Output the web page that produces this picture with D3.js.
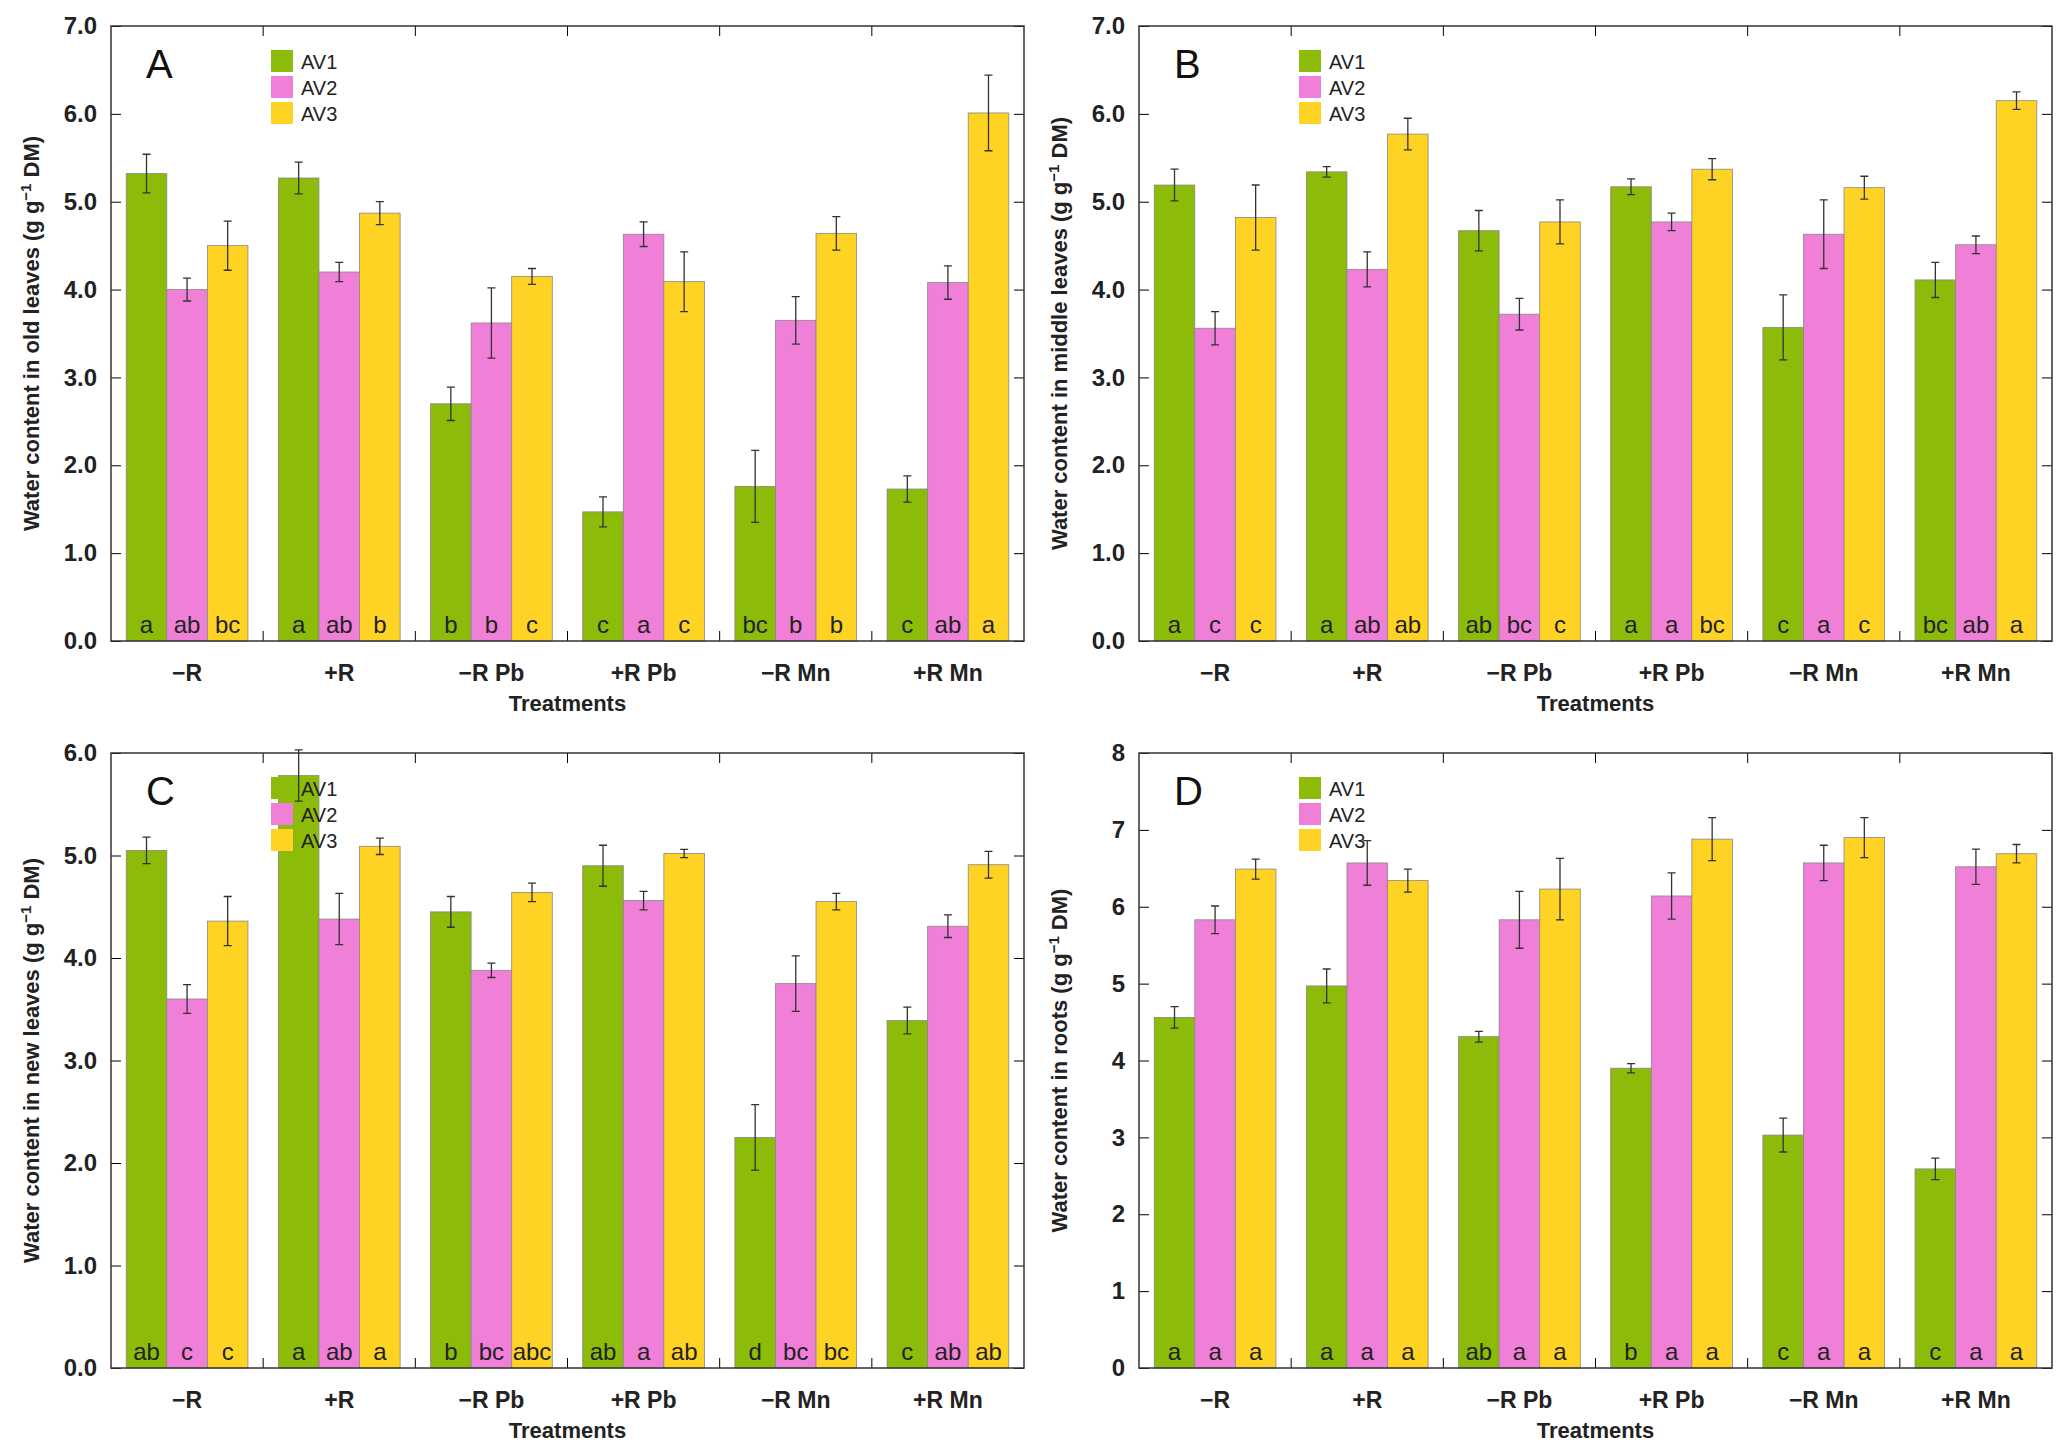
<!DOCTYPE html>
<html><head><meta charset="utf-8">
<script src="https://cdn.jsdelivr.net/npm/d3@7"></script>
<style>body{margin:0;background:#fff}text{font-family:"Liberation Sans",Arial,sans-serif}</style>
</head><body><script>
// treatments and series
var treatments = ["\u2212R", "+R", "\u2212R Pb", "+R Pb", "\u2212R Mn", "+R Mn"];
var series = ["AV1", "AV2", "AV3"];
var colors = ["#8cbb0a", "#f07fd8", "#ffd324"];

// panel A: old leaves
var oldVals = [[5.32,4.0,4.5],[5.27,4.2,4.87],[2.7,3.62,4.15],[1.47,4.63,4.09],[1.76,3.65,4.64],[1.73,4.08,6.01]];
var oldErr = [[0.22,0.13,0.28],[0.18,0.11,0.13],[0.19,0.4,0.09],[0.17,0.14,0.34],[0.41,0.27,0.19],[0.15,0.19,0.43]];
var oldLet = [["a","ab","bc"],["a","ab","b"],["b","b","c"],["c","a","c"],["bc","b","b"],["c","ab","a"]];
// panel B: middle leaves
var midVals = [[5.19,3.56,4.82],[5.34,4.23,5.77],[4.67,3.72,4.77],[5.17,4.77,5.37],[3.57,4.63,5.16],[4.11,4.51,6.15]];
var midErr = [[0.18,0.19,0.37],[0.06,0.2,0.18],[0.23,0.18,0.25],[0.09,0.1,0.12],[0.37,0.39,0.13],[0.2,0.1,0.1]];
var midLet = [["a","c","c"],["a","ab","ab"],["ab","bc","c"],["a","a","bc"],["c","a","c"],["bc","ab","a"]];
// panel C: new leaves
var newVals = [[5.05,3.6,4.36],[5.78,4.38,5.09],[4.45,3.88,4.64],[4.9,4.56,5.02],[2.25,3.75,4.55],[3.39,4.31,4.91]];
var newErr = [[0.13,0.14,0.24],[0.25,0.25,0.08],[0.15,0.07,0.09],[0.2,0.09,0.04],[0.32,0.27,0.08],[0.13,0.11,0.13]];
var newLet = [["ab","c","c"],["a","ab","a"],["b","bc","abc"],["ab","a","ab"],["d","bc","bc"],["c","ab","ab"]];
// panel D: roots
var rootVals = [[4.56,5.83,6.49],[4.97,6.57,6.34],[4.31,5.83,6.23],[3.9,6.14,6.88],[3.03,6.57,6.9],[2.59,6.52,6.69]];
var rootErr = [[0.14,0.18,0.13],[0.22,0.29,0.15],[0.07,0.37,0.4],[0.06,0.3,0.28],[0.22,0.23,0.26],[0.14,0.23,0.12]];
var rootLet = [["a","a","a"],["a","a","a"],["ab","a","a"],["b","a","a"],["c","a","a"],["c","a","a"]];

var panels = [
  {tag:"A", part:"old leaves", vals:oldVals, err:oldErr, lets:oldLet, ymax:7, x:111, y:26},
  {tag:"B", part:"middle leaves", vals:midVals, err:midErr, lets:midLet, ymax:7, x:1139, y:26},
  {tag:"C", part:"new leaves", vals:newVals, err:newErr, lets:newLet, ymax:6, x:111, y:753},
  {tag:"D", part:"roots", vals:rootVals, err:rootErr, lets:rootLet, ymax:8, x:1139, y:753}
];
var W = 913, H = 615;

var svg = d3.select("body").append("svg").attr("width", 2063).attr("height", 1454);

panels.forEach(function(p) {
  var g = svg.append("g").attr("transform", "translate(" + p.x + "," + p.y + ")");
  var x = d3.scaleBand().domain(treatments).range([0, W]).paddingInner(0.2).paddingOuter(0.1);
  var xs = d3.scaleBand().domain(series).range([0, x.bandwidth()]);
  var y = d3.scaleLinear().domain([0, p.ymax]).range([H, 0]);

  var groups = g.selectAll(".grp").data(treatments).enter().append("g")
    .attr("transform", function(d) { return "translate(" + x(d) + ",0)"; });
  groups.each(function(t, i) {
    var gg = d3.select(this);
    series.forEach(function(s, j) {
      var v = p.vals[i][j], e = p.err[i][j], cx = xs(s) + xs.bandwidth() / 2;
      gg.append("rect").attr("x", xs(s)).attr("y", y(v)).attr("width", xs.bandwidth())
        .attr("height", H - y(v)).attr("fill", colors[j]).attr("stroke", "#888").attr("stroke-width", 0.8);
      gg.append("path").attr("d", "M" + cx + "," + y(v + e) + "V" + y(v - e) +
          "M" + (cx - 4) + "," + y(v + e) + "h8M" + (cx - 4) + "," + y(v - e) + "h8")
        .attr("stroke", "#333").attr("stroke-width", 1.3).attr("fill", "none");
      gg.append("text").attr("x", cx).attr("y", H - 8).attr("text-anchor", "middle")
        .attr("font-size", 24).attr("fill", "#222").text(p.lets[i][j]);
    });
  });

  // axes with inward ticks on all sides
  var ticks = d3.range(0, p.ymax + 1);
  g.append("g").call(d3.axisLeft(y).tickValues(ticks).tickSize(-10).tickPadding(14))
    .call(function(a) { a.selectAll("text").attr("font-size", 24).attr("font-weight", "bold").attr("fill", "#222"); });
  g.append("g").attr("transform", "translate(" + W + ",0)").call(d3.axisRight(y).tickValues(ticks).tickSize(-10).tickFormat(""));
  var bounds = d3.range(1, 6).map(function(k) { return x(treatments[k]) - x.step() * 0.1; });
  bounds.forEach(function(bx) {
    g.append("line").attr("x1", bx).attr("x2", bx).attr("y1", H).attr("y2", H - 10).attr("stroke", "#000");
    g.append("line").attr("x1", bx).attr("x2", bx).attr("y1", 0).attr("y2", 10).attr("stroke", "#000");
  });
  g.selectAll(".domain").remove();
  g.append("rect").attr("width", W).attr("height", H).attr("fill", "none").attr("stroke", "#333").attr("stroke-width", 1.5);

  g.selectAll(".cat").data(treatments).enter().append("text")
    .attr("x", function(d) { return x(d) + x.bandwidth() / 2; }).attr("y", H + 40)
    .attr("text-anchor", "middle").attr("font-size", 23).attr("font-weight", "bold").attr("fill", "#222")
    .text(function(d) { return d; });
  g.append("text").attr("x", W / 2).attr("y", H + 70).attr("text-anchor", "middle")
    .attr("font-size", 22).attr("font-weight", "bold").attr("fill", "#222").text("Treatments");

  var yl = g.append("text").attr("transform", "translate(-72," + H / 2 + ") rotate(-90)")
    .attr("text-anchor", "middle").attr("font-size", 22).attr("font-weight", "bold").attr("fill", "#222");
  yl.append("tspan").text("Water content in " + p.part + " (g g");
  yl.append("tspan").attr("dy", -8).attr("font-size", 15).text("\u22121");
  yl.append("tspan").attr("dy", 8).text(" DM)");

  g.append("text").attr("x", 35).attr("y", 52).attr("font-size", 40).attr("fill", "#111").text(p.tag);
  series.forEach(function(s, j) {
    g.append("rect").attr("x", 160).attr("y", 24 + j * 26).attr("width", 22).attr("height", 22).attr("fill", colors[j]);
    g.append("text").attr("x", 190).attr("y", 43 + j * 26).attr("font-size", 20).attr("fill", "#222").text(s);
  });
});
</script></body></html>
